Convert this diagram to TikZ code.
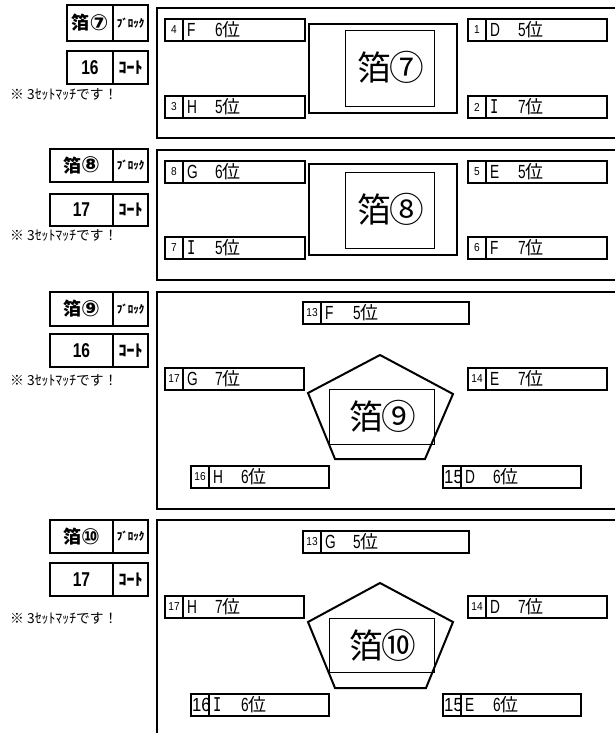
\documentclass[tikz,border=0pt]{standalone}
\usepackage{fontspec}
\usepackage{graphicx}
\setmainfont{Noto Sans CJK JP}
\newfontfamily\serifI{DejaVu Sans Mono}
\newfontfamily\lat{Liberation Sans}
\newfontfamily\circfont{DejaVu Sans}
\newcommand{\nar}[2][0.72]{\scalebox{#1}[1]{#2}}
\newcommand{\fs}[1]{\fontsize{#1}{#1}\selectfont}
% #1 total height in em, #2 glyph (with font)
\newcommand{\cnum}[2][0.95]{\sbox0{\resizebox*{!}{#1em}{#2}}\raisebox{\dimexpr 0.4em-0.5\ht0+0.5\dp0\relax}{\usebox0}}

\tikzset{
  panel/.style={draw, line width=2pt},
  cell/.style={draw, line width=2pt, inner sep=0pt, outer sep=0pt, anchor=north west},
  ebox/.style={draw, line width=2pt, inner sep=0pt, outer sep=0pt, anchor=north west, minimum height=22pt},
  divline/.style={line width=2pt},
  numsmall/.style={inner sep=0pt, font=\lat\fs{11.5}, anchor=center, xshift=9pt},
  numbig/.style={inner sep=0pt, font=\lat\fs{19}, anchor=west, xshift=1pt},
  lettertext/.style={inner sep=0pt, anchor=west, font=\fs{18}},
  blocklabel/.style={inner sep=0pt, font=\bfseries\fs{18}},
  blocktag/.style={inner sep=0pt, font=\bfseries\fs{11}},
  courtnum/.style={inner sep=0pt, font=\lat\bfseries\fs{20}},
  courttag/.style={inner sep=0pt, font=\bfseries\fs{16}},
  note/.style={inner sep=0pt, anchor=west, font=\fs{13.8}},
  outerframe/.style={draw, line width=2pt, inner sep=0pt, outer sep=0pt, anchor=north west},
  innerframe/.style={draw, line width=0.8pt, inner sep=0pt, outer sep=0pt, anchor=north west},
  bigtext/.style={inner sep=0pt, font=\fs{34}},
  pent/.style={draw, line width=2pt, line join=miter},
}

% #1 id, #2 x left, #3 block top, #4 block height, #5 court top, #6 court height, #7 circled label, #8 court number
\newcommand{\blockset}[8]{%
  \node[cell, minimum width={113pt-#2pt}, minimum height=#4pt] (#1bl) at (#2,#3) {};
  \node[cell, minimum width=35pt, minimum height=#4pt] (#1br) at (113,#3) {};
  \node[blocklabel] (#1blt) at (#1bl.center) {箔\cnum[0.9]{\circfont\bfseries #7}};
  \node[blocktag] (#1brt) at (#1br.center) {ﾌﾞﾛｯｸ};
  \node[cell, minimum width={113pt-#2pt}, minimum height=#6pt] (#1cl) at (#2,#5) {};
  \node[cell, minimum width=35pt, minimum height=#6pt] (#1cr) at (113,#5) {};
  \node[courtnum] (#1clt) at (#1cl.center) {\nar[0.78]{#8}};
  \node[courttag] (#1crt) at (#1cr.center) {ｺｰﾄ};
}

% #1 name, #2 x, #3 y, #4 width, #5 number style, #6 number, #7 letter, #8 rank
\newcommand{\entry}[8]{%
  \node[ebox, minimum width=#4pt] (#1) at (#2,#3) {};
  \draw[divline] ([xshift=18pt]#1.north west) -- ([xshift=18pt]#1.south west);
  \node[#5] (#1n) at (#1.west) {\nar[0.88]{#6}};
  \node[lettertext] (#1t) at ([xshift=22pt]#1.west) {\makebox[28pt][l]{\lat\fs{19}\nar{#7}}{\lat\fs{19}\nar{#8}}位};
}

\begin{document}
\begin{tikzpicture}[x=1pt,y=-1pt]
\useasboundingbox (0,0) rectangle (615,733);
\clip (0,0) rectangle (615,733);

% panels
\draw[panel] (157,8) rectangle (630,138);
\draw[panel] (157,150) rectangle (630,280);
\draw[panel] (157,292) rectangle (630,509);
\draw[panel] (157,520) rectangle (630,745);

% left information blocks
\blockset{b7}{67}{5}{36}{51}{33}{⑦}{16}
\node[note] (n7) at (10,94) {※ 3ｾｯﾄﾏｯﾁです！};
\blockset{b8}{50}{149}{33}{194}{32}{⑧}{17}
\node[note] (n8) at (10,235) {※ 3ｾｯﾄﾏｯﾁです！};
\blockset{b9}{50}{292}{34}{334}{33}{⑨}{16}
\node[note] (n9) at (10,380) {※ 3ｾｯﾄﾏｯﾁです！};
\blockset{b10}{50}{520}{33}{563}{33}{⑩}{17}
\node[note] (n10) at (10,618) {※ 3ｾｯﾄﾏｯﾁです！};

% panel 1
\node[outerframe, minimum width=148pt, minimum height=89pt] (c7o) at (309,24) {};
\node[innerframe, minimum width=89pt, minimum height=76pt] (c7i) at (345,30) {};
\node[bigtext] (c7t) at (391,67) {箔\hspace{-0.04em}\cnum{⑦}};
\entry{e4}{165}{19}{140}{numsmall}{4}{F}{6}
\entry{e1}{468}{19}{139}{numsmall}{1}{D}{5}
\entry{e3}{165}{96}{140}{numsmall}{3}{H}{5}
\entry{e2}{468}{96}{139}{numsmall}{2}{\serifI I}{7}

% panel 2
\node[outerframe, minimum width=148pt, minimum height=91pt] (c8o) at (309,164) {};
\node[innerframe, minimum width=89pt, minimum height=76pt] (c8i) at (345,172) {};
\node[bigtext] (c8t) at (391,209) {箔\hspace{-0.04em}\cnum{⑧}};
\entry{e8}{165}{161}{140}{numsmall}{8}{G}{6}
\entry{e5}{468}{161}{139}{numsmall}{5}{E}{5}
\entry{e7}{165}{237}{140}{numsmall}{7}{\serifI I}{5}
\entry{e6}{468}{237}{139}{numsmall}{6}{F}{7}

% panel 3
\draw[pent] (380,355) -- (453,394) -- (425,459) -- (335,459) -- (308,393) -- cycle;
\node[innerframe, minimum width=105pt, minimum height=55pt] (c9i) at (329,389) {};
\node[bigtext] (c9t) at (383,416) {箔\hspace{-0.04em}\cnum{⑨}};
\entry{e13a}{303}{302}{166}{numsmall}{13}{F}{5}
\entry{e17a}{165}{368}{139}{numsmall}{17}{G}{7}
\entry{e14a}{468}{368}{139}{numsmall}{14}{E}{7}
\entry{e16a}{191}{466}{138}{numsmall}{16}{H}{6}
\entry{e15a}{443}{466}{138}{numbig}{15}{D}{6}

% panel 4
\draw[pent] (380,583) -- (453,622) -- (426,688) -- (335,688) -- (308,622) -- cycle;
\node[innerframe, minimum width=105pt, minimum height=54pt] (c10i) at (329,618) {};
\node[bigtext] (c10t) at (383,645) {箔\hspace{-0.04em}\cnum{⑩}};
\entry{e13b}{303}{531}{166}{numsmall}{13}{G}{5}
\entry{e17b}{165}{596}{139}{numsmall}{17}{H}{7}
\entry{e14b}{468}{596}{139}{numsmall}{14}{D}{7}
\entry{e16b}{191}{694}{138}{numbig}{16}{\serifI I}{6}
\entry{e15b}{443}{694}{138}{numbig}{15}{E}{6}
\end{tikzpicture}
\end{document}
